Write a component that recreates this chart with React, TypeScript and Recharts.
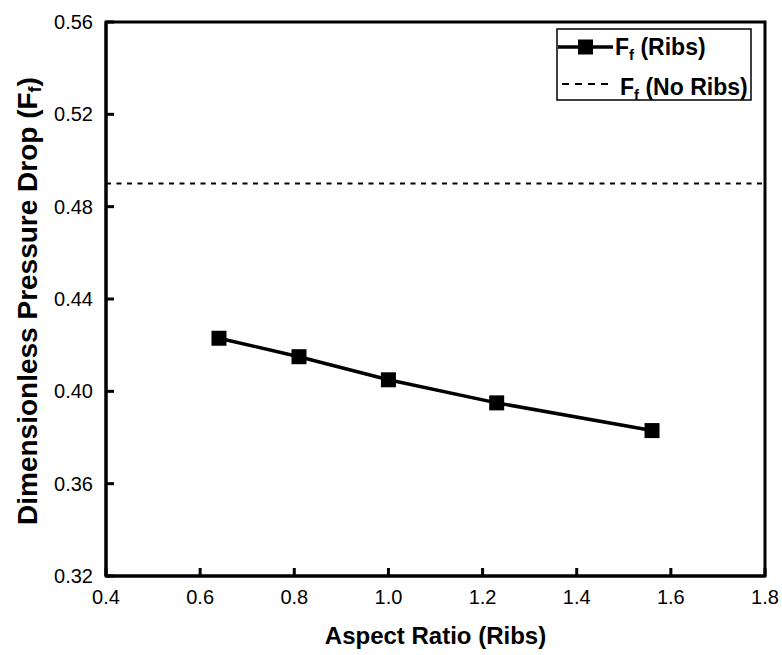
import React from 'react';
import { LineChart, Line, XAxis, YAxis, ReferenceLine, ReferenceArea, Legend } from 'recharts';

const aspectRatios = [0.64, 0.81, 1.0, 1.23, 1.56];
const ffRibs = [0.423, 0.415, 0.405, 0.395, 0.383];
const ffNoRibs = 0.49;
const xTicks = [0.4, 0.6, 0.8, 1.0, 1.2, 1.4, 1.6, 1.8];
const yTicks = [0.32, 0.36, 0.4, 0.44, 0.48, 0.52, 0.56];

const data = aspectRatios.map((x, i) => ({ x, y: ffRibs[i] }));

const FONT = 'Arial, "Liberation Sans", sans-serif';
const TICK_LEN = 8;
const X_MARGIN = 12;
const Y_MARGIN = 13;
const AXIS_W = 3;

const XTick = (props: any) => {
  const { x, y, payload } = props;
  const axisY = y - X_MARGIN;
  return (
    <g>
      <line x1={x} x2={x} y1={axisY} y2={axisY - TICK_LEN} stroke="#000" strokeWidth={AXIS_W} />
      <text x={x} y={axisY + 28} textAnchor="middle" fontSize={20} fontFamily={FONT} fill="#000">
        {Number(payload.value).toFixed(1)}
      </text>
    </g>
  );
};

const YTick = (props: any) => {
  const { x, y, payload } = props;
  const axisX = x + Y_MARGIN;
  return (
    <g>
      <line x1={axisX} x2={axisX + TICK_LEN} y1={y} y2={y} stroke="#000" strokeWidth={AXIS_W} />
      <text x={x} y={y + 7} textAnchor="end" fontSize={20} fontFamily={FONT} fill="#000">
        {Number(payload.value).toFixed(2)}
      </text>
    </g>
  );
};

const XTitle = (props: any) => {
  const { viewBox } = props;
  const cx = viewBox.x + viewBox.width / 2;
  return (
    <text x={cx} y={viewBox.y + 68} textAnchor="middle" fontSize={24} fontWeight="bold" fontFamily={FONT} fill="#000">
      Aspect Ratio (Ribs)
    </text>
  );
};

const YTitle = (props: any) => {
  const { viewBox } = props;
  const bx = 37;
  const cy = viewBox.y + viewBox.height / 2 + 2;
  return (
    <text
      x={bx}
      y={cy}
      transform={`rotate(-90 ${bx} ${cy})`}
      textAnchor="middle"
      fontSize={28}
      fontWeight="bold"
      fontFamily={FONT}
      fill="#000"
    >
      Dimensionless Pressure Drop (F
      <tspan fontSize={18} dy={4}>f</tspan>
      <tspan dy={-4}>)</tspan>
    </text>
  );
};

const LegendBox = () => (
  <svg width={197} height={74}>
    <rect x={1} y={1} width={194} height={71} fill="#fff" stroke="#000" strokeWidth={1.5} />
    <line x1={2} x2={57} y1={19} y2={19} stroke="#000" strokeWidth={3.5} />
    <rect x={22} y={11.5} width={15} height={15} fill="#000" />
    <text x={59} y={27} fontSize={23} fontWeight="bold" fontFamily={FONT} fill="#000">
      F<tspan fontSize={15} dy={5}>f</tspan>
      <tspan dy={-5}> (Ribs)</tspan>
    </text>
    <line x1={6} x2={53} y1={56} y2={56} stroke="#000" strokeWidth={2} strokeDasharray="7 6" />
    <text x={64} y={67} fontSize={23} fontWeight="bold" fontFamily={FONT} fill="#000">
      F<tspan fontSize={15} dy={5}>f</tspan>
      <tspan dy={-5}> (No Ribs)</tspan>
    </text>
  </svg>
);

const Square = (props: any) => {
  const { cx, cy } = props;
  if (cx == null || cy == null) return null;
  return <rect x={cx - 7.5} y={cy - 7.5} width={15} height={15} fill="#000" />;
};

export default function App() {
  return (
    <div style={{ position: 'absolute', left: 0, top: 0, background: '#fff', width: 782, height: 655 }}>
      <LineChart
        width={782}
        height={655}
        data={data}
        margin={{ top: 22, right: 17, bottom: 0, left: 0 }}
        style={{ overflow: 'visible' }}
      >
        <XAxis
          dataKey="x"
          type="number"
          domain={[0.4, 1.8]}
          ticks={xTicks}
          height={79}
          tickSize={0}
          tickMargin={X_MARGIN}
          tick={<XTick />}
          axisLine={{ stroke: '#000', strokeWidth: AXIS_W }}
          tickLine={false}
          interval={0}
          allowDataOverflow
          label={<XTitle />}
        />
        <YAxis
          dataKey="y"
          type="number"
          domain={[0.32, 0.56]}
          ticks={yTicks}
          width={106}
          tickSize={0}
          tickMargin={Y_MARGIN}
          tick={<YTick />}
          axisLine={{ stroke: '#000', strokeWidth: AXIS_W }}
          tickLine={false}
          interval={0}
          allowDataOverflow
          label={<YTitle />}
        />
        <ReferenceArea
          x1={0.4}
          x2={1.8}
          y1={0.32}
          y2={0.56}
          fill="none"
          fillOpacity={0}
          stroke="#000"
          strokeWidth={AXIS_W}
          ifOverflow="visible"
        />
        <ReferenceLine y={ffNoRibs} stroke="#000" strokeWidth={2} strokeDasharray="5 5.5" />
        <Line
          dataKey="y"
          stroke="#000"
          strokeWidth={3.5}
          dot={<Square />}
          activeDot={false}
          isAnimationActive={false}
        />
        <Legend
          layout="horizontal"
          verticalAlign="middle"
          align="center"
          content={() => <LegendBox />}
          wrapperStyle={{ top: 28, left: 556, width: 197, height: 74 }}
        />
      </LineChart>
    </div>
  );
}
